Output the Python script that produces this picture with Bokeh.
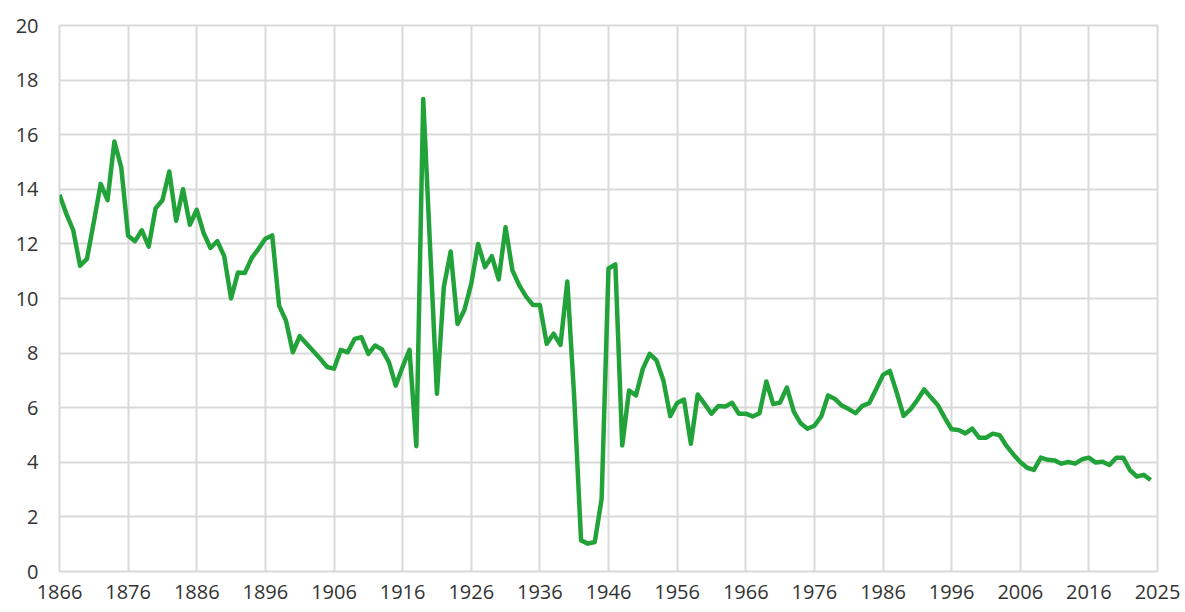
from bokeh.plotting import figure
from bokeh.models import Range1d, FixedTicker, ColumnDataSource
from bokeh.embed import file_html
from bokeh.resources import INLINE

years = list(range(1866, 2026))
values = [
    13.8, 13.1, 12.5, 11.2, 11.45, 12.8, 14.2, 13.6, 15.75, 14.8,
    12.3, 12.1, 12.5, 11.9, 13.3, 13.6, 14.65, 12.85, 14.0, 12.7,
    13.25, 12.4, 11.85, 12.1, 11.55, 10.0, 10.95, 10.93, 11.48, 11.82,
    12.19, 12.31, 9.74, 9.19, 8.03, 8.62, 8.34, 8.07, 7.79, 7.49,
    7.43, 8.12, 8.03, 8.52, 8.58, 7.97, 8.28, 8.13, 7.67, 6.81,
    7.5, 8.12, 4.59, 17.31, 11.9, 6.51, 10.42, 11.72, 9.07, 9.58,
    10.54, 12.0, 11.15, 11.55, 10.7, 12.61, 11.03, 10.48, 10.07, 9.76,
    9.76, 8.34, 8.71, 8.3, 10.62, 6.39, 1.14, 1.02, 1.08, 2.66,
    11.1, 11.25, 4.62, 6.63, 6.45, 7.42, 7.97, 7.73, 7.0, 5.69,
    6.17, 6.3, 4.68, 6.48, 6.14, 5.78, 6.06, 6.04, 6.18, 5.78,
    5.78, 5.68, 5.8, 6.96, 6.13, 6.19, 6.74, 5.86, 5.43, 5.23,
    5.34, 5.68, 6.45, 6.32, 6.08, 5.95, 5.8, 6.07, 6.17, 6.68,
    7.2, 7.35, 6.55, 5.7, 5.94, 6.28, 6.67, 6.37, 6.09, 5.63,
    5.21, 5.18, 5.06, 5.23, 4.9, 4.9, 5.05, 4.99, 4.6, 4.29,
    4.01, 3.8, 3.72, 4.17, 4.09, 4.07, 3.95, 4.01, 3.95, 4.11,
    4.17, 3.99, 4.02, 3.9, 4.17, 4.17, 3.71, 3.48, 3.54, 3.35,
]

x_ticks = [1866, 1876, 1886, 1896, 1906, 1916, 1926, 1936, 1946, 1956,
           1966, 1976, 1986, 1996, 2006, 2016, 2026]
x_tick_labels = ["1866", "1876", "1886", "1896", "1906", "1916", "1926", "1936",
                 "1946", "1956", "1966", "1976", "1986", "1996", "2006", "2016", "2025"]
y_ticks = [0, 2, 4, 6, 8, 10, 12, 14, 16, 18, 20]

FONT = "Open Sans"
TXT = "#333333"
GRID = "#d9d9d9"

p = figure(width=1185, height=612, output_backend="svg", toolbar_location=None,
           x_range=Range1d(1866, 2026), y_range=Range1d(0, 20),
           min_border_left=59, min_border_right=28, min_border_top=25, min_border_bottom=41)
p.outline_line_color = GRID
p.outline_line_width = 2
p.background_fill_color = "white"

src = ColumnDataSource(dict(x=years, y=values))
p.line("x", "y", source=src, line_color="#22a33a", line_width=4.5, line_join="round")

p.xaxis.ticker = FixedTicker(ticks=x_ticks)
p.xaxis.major_label_overrides = {t: l for t, l in zip(x_ticks, x_tick_labels)}
p.yaxis.ticker = FixedTicker(ticks=y_ticks)

for ax in (p.xaxis[0], p.yaxis[0]):
    ax.axis_line_color = None
    ax.major_tick_line_color = None
    ax.minor_tick_line_color = None
    ax.major_tick_out = 0
    ax.major_tick_in = 0
    ax.major_label_text_font = FONT
    ax.major_label_text_font_size = "20px"
    ax.major_label_text_color = TXT

p.xaxis.major_label_standoff = 13
p.yaxis.major_label_standoff = 21

p.xgrid.grid_line_color = GRID
p.xgrid.grid_line_width = 2
p.ygrid.grid_line_color = GRID
p.ygrid.grid_line_width = 2

open("out.html", "w").write(file_html(p, INLINE))
